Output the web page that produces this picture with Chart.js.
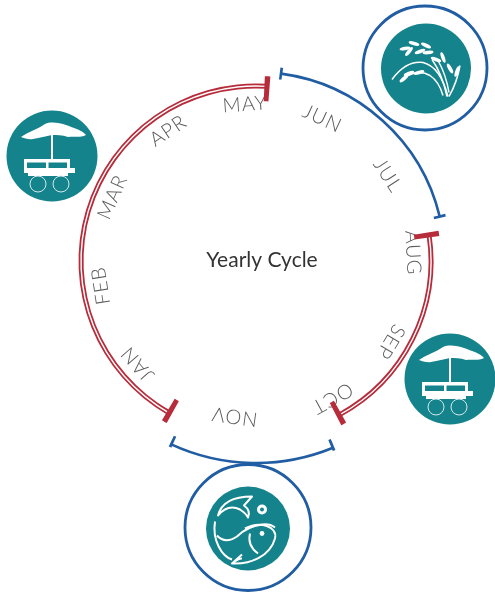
<!DOCTYPE html>
<html>
<head>
<meta charset="utf-8">
<title>Yearly Cycle</title>
<script src="https://cdn.jsdelivr.net/npm/chart.js@4"></script>
<style>
  html, body { margin: 0; background: #fff; }
  #stage { position: relative; width: 495px; height: 593px; overflow: hidden; }
  canvas { position: absolute; left: 0; top: 0; }
</style>
</head>
<body>
<div id="stage"></div>
<script>
// angles in degrees, clockwise from 12 o'clock
const months = ['JAN', 'FEB', 'MAR', 'APR', 'MAY', 'JUN', 'JUL', 'AUG', 'SEP', 'OCT', 'NOV'];
const monthAngles = [229, 261, 294, 326, 356, 25, 57, 87, 121, 151, 188];
const redSpans = [[81.4, 151.7], [209.7, 363.6]];
const redTicks = [3.6, 81.4, 151.7, 209.7];
const blueTopSpan = [[7.6, 76.4]];
const blueBottomSpan = [[157.6, 204.8]];

const RED = '#b72c3a', BLUE = '#215da3', TEAL = '#14838c';
const W = 495, H = 593, CX = 256, CY = 261;
const stage = document.getElementById('stage');

// turns [from,to] spans into doughnut slices, starting at the first span
function slices(spans, color) {
  const start = spans[0][0];
  const data = [], colors = [];
  let at = start;
  spans.forEach(s => {
    if (s[0] > at) { data.push(s[0] - at); colors.push('transparent'); }
    data.push(s[1] - s[0]);
    colors.push(color);
    at = s[1];
  });
  data.push(start + 360 - at);
  colors.push('transparent');
  return { start, data, colors };
}

function tickSpans(angles, width) {
  return angles.map(a => [a - width / 2, a + width / 2]);
}

// one stacked doughnut on its own full size canvas
function ring(spans, color, rOuter, rInner, cy, plugins, extra) {
  const s = slices(spans, color);
  const canvas = document.createElement('canvas');
  canvas.width = W;
  canvas.height = H;
  stage.appendChild(canvas);
  const datasets = [{ data: s.data, backgroundColor: s.colors, borderWidth: 0, weight: 1 }];
  if (extra) datasets.push(...extra(s));
  return new Chart(canvas, {
    type: 'doughnut',
    data: { datasets: datasets },
    options: {
      responsive: false,
      animation: false,
      events: [],
      rotation: s.start,
      radius: rOuter,
      cutout: (rInner / rOuter * 100) + '%',
      layout: { padding: { left: 2 * CX - W, right: 0, top: 0, bottom: H - 2 * cy } },
      plugins: { legend: { display: false }, tooltip: { enabled: false } }
    },
    plugins: plugins || []
  });
}

// white glyphs for the round icons, local coordinates around the icon centre
const cartFill = [
  'M-31,-19 C-24,-24 -14,-27 -7,-32 C-1,-35 8,-33 14,-31 C22,-28 30,-26 34,-21 C28,-18 22,-20 16,-19 C10,-21 5,-21 0,-21 C-6,-20 -12,-18 -19,-17 C-23,-16 -28,-18 -31,-19 Z',
  'M-1,-21 h2 v25 h-2 Z',
  'M-28,3 h46 v3.5 h-46 Z',
  'M-28,3 h3 v9 h-3 Z M-6,3 h2.5 v9 h-2.5 Z M15,3 h3 v9 h-3 Z',
  'M-28,12 h51 v5 h-51 Z',
  'M-24,17 h40 v3 h-40 Z'
];
const ricePaths = [
  'M-34,11 Q-20,-8 -3,-6 Q14,-2 22,28',
  'M-18,7 Q-6,1 4,7 Q13,13 17,27',
  'M6,-9 Q16,5 21,28',
  'M34,-3 Q31,14 23,28',
  'M12,-8 Q20,6 23,24'
];
const riceGrains = [[-21,-20,-10],[-12,-25,15],[0,-23,25],[-6,-17,-20],[-17,-17,-50],[2,-16,-5],[10,-9,20],[17,-11,70],[24,0,60],[31,3,-70],[-22,10,-40],[-17,5,-20],[-7,4,-15]];
const fishPaths = [
  'M4,-32 Q-25,-32 -30,-13 Q-20,-25 -8,-19 Q-2,-15 0,-11 Q3,-18 -4,-23 Z',
  'M-33,-7 C-36,12 -26,28 -16,31',
  'M-31,7 Q-23,16 -11,8 Q-1,-2 14,-4 Q22,-5 27,-1',
  'M-3,0 C12,-8 30,-2 27,10 C22,28 2,36 -16,35 L-6,26 M-16,35 Q-10,30 -6,30',
  'M2,5 Q-1,17 10,25'
];

const iconPlugin = {
  id: 'icons',
  beforeDraw(chart) {
    const ctx = chart.ctx;
    const disc = (x, y, r) => {
      ctx.fillStyle = TEAL;
      ctx.beginPath();
      ctx.arc(x, y, r, 0, Math.PI * 2);
      ctx.fill();
    };
    const hoop = (x, y, r) => {
      ctx.strokeStyle = BLUE;
      ctx.lineWidth = 2.8;
      ctx.beginPath();
      ctx.arc(x, y, r, 0, Math.PI * 2);
      ctx.stroke();
    };
    const cart = (x, y) => {
      disc(x, y, 45.5);
      ctx.save();
      ctx.translate(x, y);
      ctx.fillStyle = '#fff';
      cartFill.forEach(p => ctx.fill(new Path2D(p)));
      ctx.strokeStyle = '#d5e8ea';
      ctx.lineWidth = 1;
      [[-14, 28], [9, 28]].forEach(c => {
        ctx.beginPath();
        ctx.arc(c[0], c[1], 8, 0, Math.PI * 2);
        ctx.stroke();
      });
      ctx.restore();
    };

    cart(52, 156);
    cart(450, 379);

    // rice
    hoop(425, 68, 62);
    disc(426, 68.5, 45);
    ctx.save();
    ctx.translate(426, 68.5);
    ctx.strokeStyle = '#fff';
    ctx.fillStyle = '#fff';
    ctx.lineWidth = 1.5;
    ricePaths.forEach(p => ctx.stroke(new Path2D(p)));
    riceGrains.forEach(g => {
      ctx.beginPath();
      ctx.ellipse(g[0], g[1], 5.5, 1.8, g[2] * Math.PI / 180, 0, Math.PI * 2);
      ctx.fill();
    });
    ctx.restore();

    // fish
    hoop(248, 527.5, 63);
    disc(248, 528.5, 42);
    ctx.save();
    ctx.translate(248, 528.5);
    ctx.strokeStyle = '#fff';
    ctx.lineWidth = 2;
    ctx.lineJoin = 'round';
    fishPaths.forEach(p => ctx.stroke(new Path2D(p)));
    ctx.lineWidth = 3;
    ctx.beginPath();
    ctx.arc(14, -19, 3.5, 0, Math.PI * 2);
    ctx.stroke();
    ctx.fillStyle = '#fff';
    ctx.beginPath();
    ctx.arc(14, 5, 2.4, 0, Math.PI * 2);
    ctx.fill();
    ctx.restore();
  }
};

const labelPlugin = {
  id: 'monthLabels',
  afterDraw(chart) {
    const ctx = chart.ctx;
    const arc = chart.getDatasetMeta(0).data[0];
    ctx.save();
    ctx.textAlign = 'center';
    ctx.textBaseline = 'middle';
    ctx.fillStyle = '#5c5c5c';
    ctx.font = '300 20px Lato';
    ctx.letterSpacing = '1px';
    months.forEach((m, i) => {
      const a = monthAngles[i] * Math.PI / 180;
      ctx.save();
      ctx.translate(arc.x + 157 * Math.sin(a), arc.y - 157 * Math.cos(a));
      ctx.rotate(a);
      ctx.fillText(m, 0, 0);
      ctx.restore();
    });
    ctx.letterSpacing = '0px';
    ctx.fillStyle = '#333';
    ctx.font = '21px Lato';
    ctx.fillText('Yearly Cycle', 262, 260);
    ctx.restore();
  }
};

// red double line: red, thin gap, red
ring(redSpans, RED, 177.5, 172.5, CY, [iconPlugin, labelPlugin], s => [
  { data: s.data, backgroundColor: 'transparent', borderWidth: 0, weight: 0.8 },
  { data: s.data, backgroundColor: s.colors, borderWidth: 0, weight: 1 }
]);
ring(tickSpans(redTicks, 1.7), RED, 185, 160, CY);

ring(blueTopSpan, BLUE, 190.3, 187.7, CY);
ring(tickSpans([blueTopSpan[0][0], blueTopSpan[0][1]], 0.8), BLUE, 195, 183, CY);

ring(blueBottomSpan, BLUE, 203.3, 200.7, CY);
ring(tickSpans([blueBottomSpan[0][0], blueBottomSpan[0][1]], 0.8), BLUE, 205, 193, CY);
</script>
</body>
</html>
